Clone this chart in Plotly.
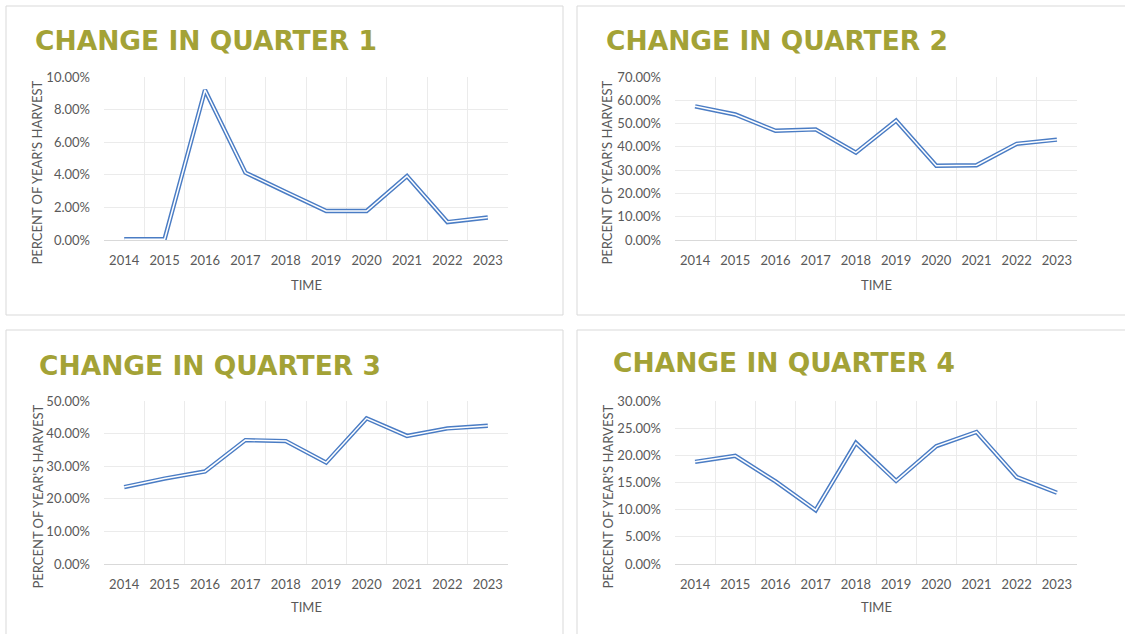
import plotly.graph_objects as go

years = ["2014", "2015", "2016", "2017", "2018", "2019", "2020", "2021", "2022", "2023"]
q1 = [0.0005, 0.0005, 0.092, 0.0413, 0.0295, 0.0178, 0.0178, 0.0392, 0.011, 0.0138]
q2 = [0.574, 0.539, 0.469, 0.475, 0.375, 0.513, 0.319, 0.321, 0.413, 0.431]
q3 = [0.236, 0.262, 0.284, 0.380, 0.377, 0.311, 0.447, 0.393, 0.416, 0.424]
q4 = [0.188, 0.199, 0.152, 0.099, 0.223, 0.153, 0.217, 0.243, 0.160, 0.131]

titles = ["CHANGE IN QUARTER 1", "CHANGE IN QUARTER 2", "CHANGE IN QUARTER 3", "CHANGE IN QUARTER 4"]
y_ranges = [(0, 0.10, 0.02), (0, 0.70, 0.10), (0, 0.50, 0.10), (0, 0.30, 0.05)]
series = [q1, q2, q3, q4]

W, H = 1125, 634
BLUE = "#4A7CC4"
GREY = "#595959"
OLIVE = "#A3A236"

panels = [
    dict(pl=104, pr=508, pt=77, pb=240, box=(6, 6, 563, 315), tx=33, ty=40, ytx=37, tix=306, tiy=285),
    dict(pl=675, pr=1077, pt=77, pb=240, box=(577, 6, 1130, 315), tx=604, ty=40, ytx=607, tix=876, tiy=285),
    dict(pl=104, pr=508, pt=401, pb=564, box=(6, 330, 563, 640), tx=37, ty=365, ytx=37, tix=306, tiy=607),
    dict(pl=675, pr=1077, pt=401, pb=564, box=(577, 330, 1130, 640), tx=611, ty=362, ytx=607, tix=876, tiy=607),
]

fig = go.Figure()
shapes = []
annotations = []
for i, (p, vals, title, yr) in enumerate(zip(panels, series, titles, y_ranges)):
    n = i + 1
    xa = "x" if n == 1 else f"x{n}"
    ya = "y" if n == 1 else f"y{n}"
    fig.add_trace(go.Scatter(x=years, y=vals, mode="lines", xaxis=xa, yaxis=ya,
                             line=dict(color=BLUE, width=4.4), showlegend=False, hoverinfo="skip"))
    fig.add_trace(go.Scatter(x=years, y=vals, mode="lines", xaxis=xa, yaxis=ya,
                             line=dict(color="white", width=1.5), showlegend=False))
    xkey = "xaxis" if n == 1 else f"xaxis{n}"
    ykey = "yaxis" if n == 1 else f"yaxis{n}"
    fig.update_layout(**{
        xkey: dict(domain=[p["pl"] / W, p["pr"] / W], anchor=ya, type="category",
                   range=[-0.5, len(years) - 0.5],
                   tickson="boundaries", showgrid=True, gridcolor="#EBEBEB", gridwidth=1,
                   showline=True, linecolor="#D9D9D9", linewidth=1, ticks="",
                   tickfont=dict(family="Lato", size=13, color=GREY), ticklabelstandoff=8,
                   zeroline=False, fixedrange=True),
        ykey: dict(domain=[1 - p["pb"] / H, 1 - p["pt"] / H], anchor=xa,
                   range=[yr[0], yr[1]], dtick=yr[2], tick0=0, tickformat=".2%",
                   showgrid=True, gridcolor="#EBEBEB", gridwidth=1, zeroline=False,
                   showline=False, ticks="", ticklabelstandoff=13,
                   tickfont=dict(family="Lato", size=13, color=GREY), fixedrange=True),
    })
    x0, y0, x1, y1 = p["box"]
    shapes.append(dict(type="rect", xref="paper", yref="paper", x0=x0 / W, x1=x1 / W,
                       y0=1 - y1 / H, y1=1 - y0 / H, line=dict(color="#D9D9D9", width=1),
                       fillcolor="rgba(0,0,0,0)", layer="below"))
    annotations.append(dict(text=title, xref="paper", yref="paper", x=p["tx"] / W, y=1 - p["ty"] / H,
                            xanchor="left", yanchor="middle", showarrow=False,
                            font=dict(family="DejaVu Sans", size=26.5, color=OLIVE, weight="bold")))
    annotations.append(dict(text="PERCENT OF YEAR'S HARVEST", xref="paper", yref="paper",
                            x=p["ytx"] / W, y=1 - ((p["pt"] + p["pb"]) / 2 + 14) / H,
                            xanchor="center", yanchor="middle", showarrow=False, textangle=-90,
                            font=dict(family="Lato", size=13, color=GREY)))
    annotations.append(dict(text="TIME", xref="paper", yref="paper", x=p["tix"] / W, y=1 - p["tiy"] / H,
                            xanchor="center", yanchor="middle", showarrow=False,
                            font=dict(family="Lato", size=13, color=GREY)))

fig.update_layout(width=W, height=H, margin=dict(l=0, r=0, t=0, b=0, autoexpand=False),
                  paper_bgcolor="white", plot_bgcolor="white",
                  shapes=shapes, annotations=annotations)
fig.write_html("out.html", config={"displayModeBar": False},
               post_script="document.body.style.margin='0';document.body.style.overflow='hidden';")
